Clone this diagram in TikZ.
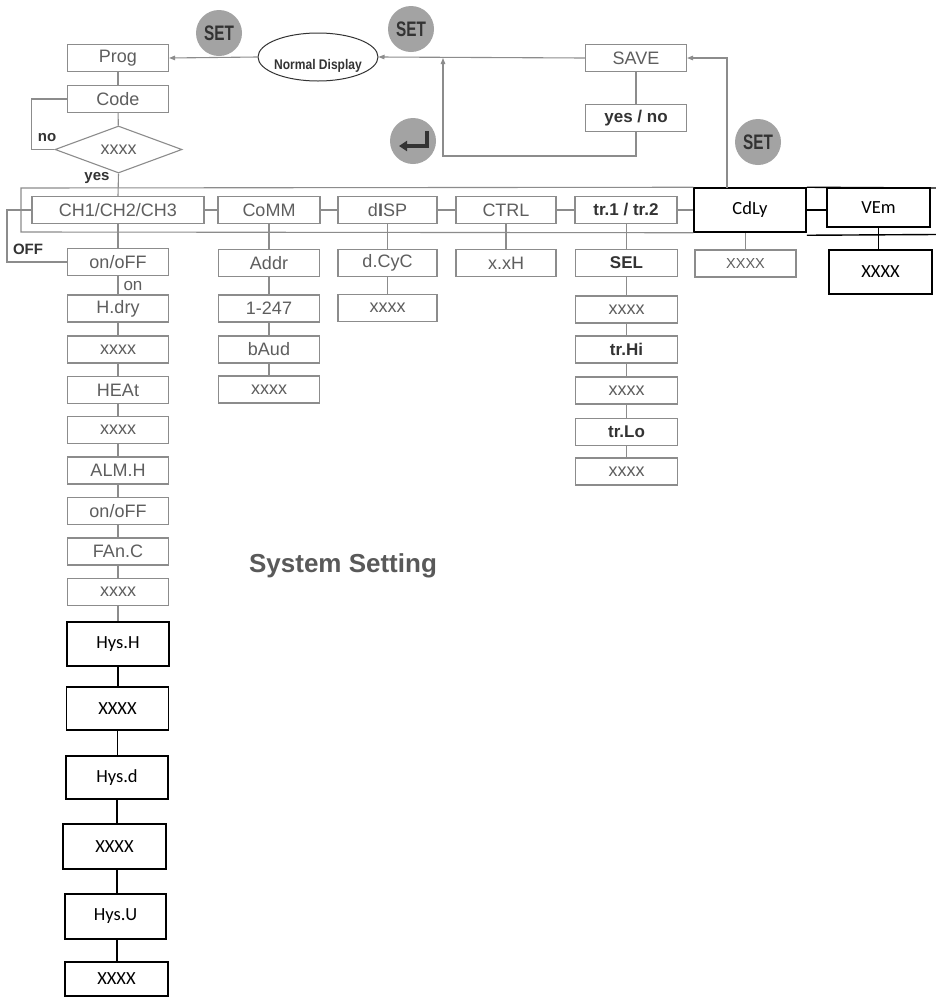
\documentclass[tikz,border=0pt]{standalone}
\usepackage{fontspec}
\usepackage{graphicx}
\setmainfont{Liberation Sans}
\newfontfamily\carl{Carlito}
\usetikzlibrary{shapes.geometric,arrows.meta}
\definecolor{boxgray}{HTML}{8C8C8C}
\definecolor{txtgray}{HTML}{5E5E5E}
\definecolor{lngray}{HTML}{8C8C8C}
\definecolor{setfill}{HTML}{A3A3A3}
\definecolor{darkg}{HTML}{333333}
\newcommand{\condtxt}[2]{\scalebox{#1}[1]{#2}}
\begin{document}
\begin{tikzpicture}[x=1pt,y=-1pt,
 gbox/.style={draw=boxgray,line width=1.1pt,minimum width=101pt,minimum height=27pt,inner sep=0pt,text=txtgray,font=\fontsize{18}{20}\selectfont},
 gboxb/.style={gbox,font=\fontsize{17}{20}\selectfont\bfseries,text=darkg},
 bbox/.style={draw=black,line width=1.5pt,minimum width=102pt,minimum height=44pt,inner sep=0pt,font=\carl\fontsize{18.5}{21}\selectfont},
 gl/.style={draw=lngray,line width=1.1pt},
 bl/.style={draw=black,line width=1.4pt},
 arr/.style={gl,-{Triangle[length=6pt,width=4.5pt]}},
 setc/.style={circle,fill=setfill,minimum size=46pt,inner sep=0pt,text=darkg,font=\fontsize{21}{22}\selectfont\bfseries},
 lab/.style={font=\fontsize{15}{17}\selectfont\bfseries,text=darkg,inner sep=0pt},
]
\fill[white] (0,0) rectangle (936,999);
\useasboundingbox (0,0) rectangle (936,999);

% top area
\node[gbox] (prog) at (118,58) {Prog};
\node[gbox] (code) at (118,99) {Code};
\node[diamond,draw=boxgray,line width=1.1pt,minimum width=127pt,minimum height=47pt,inner sep=0pt,text=txtgray,font=\fontsize{18}{20}\selectfont] (dia) at (118.5,149.5) {xxxx};
\node[ellipse,draw=darkg,line width=1pt,minimum width=120pt,minimum height=48pt,inner sep=0pt,
  label={[inner sep=0pt,text=darkg,font=\fontsize{14}{16}\selectfont\bfseries,yshift=-9pt]center:\condtxt{0.86}{Normal Display}}] (nd) at (318,57) {};
\node[gbox] (save) at (636,58) {SAVE};
\node[gboxb] (yn) at (636,118) {yes / no};
\node[setc] (set1) at (219,33) {\condtxt{0.73}{SET}};
\node[setc] (set2) at (411,29) {\condtxt{0.73}{SET}};
\node[setc] (set3) at (758,142) {\condtxt{0.73}{SET}};
\node[setc] (enter) at (413,141) {};
\draw[darkg,line width=3.5pt,-{Triangle[length=8pt,width=10pt]}] (427,131) -- (427,146) -- (399,146);

\node[lab] (nolab) at (47,138) {no};
\node[lab] (yeslab) at (97,178) {yes};
\node[lab] (offlab) at (28,249) {OFF};
\node[inner sep=0pt,text=txtgray,font=\fontsize{17}{19}\selectfont] (onlab) at (133,286) {on};

% menu row
\node[gbox,minimum width=172pt] (ch) at (118,210) {CH1/CH2/CH3};
\node[gbox,minimum width=102pt] (comm) at (269,210) {CoMM};
\node[gbox,minimum width=99pt] (disp) at (387.5,210) {d\textbf{I}SP};
\node[gbox,minimum width=100pt] (ctrl) at (506,210) {CTRL};
\node[gboxb,minimum width=102pt] (tr) at (626,210) {tr.1 / tr.2};
\node[bbox,minimum width=112pt,minimum height=44pt] (cdly) at (750,210) {CdLy};
\node[bbox,minimum width=103pt,minimum height=39pt] (vem) at (878.5,207.5) {VEm};

% CH column
\node[gbox] (onoff) at (118,262) {on/oFF};
\node[gbox] (hdry) at (118,308.5) {H.dry};
\node[gbox] (x1) at (118,349.5) {xxxx};
\node[gbox] (heat) at (118,390) {HEAt};
\node[gbox] (x2) at (118,430) {xxxx};
\node[gbox] (almh) at (118,470.5) {ALM.H};
\node[gbox] (onoff2) at (118,511) {on/oFF};
\node[gbox] (fanc) at (118,551.5) {FAn.C};
\node[gbox] (x3) at (118,592) {xxxx};

% CoMM column
\node[gbox] (addr) at (269,263) {Addr};
\node[gbox] (n247) at (269,308.5) {1-247};
\node[gbox] (baud) at (269,349.5) {bAud};
\node[gbox] (x4) at (269,389.5) {xxxx};

% dISP column
\node[gbox,minimum width=99pt] (dcyc) at (387.5,263) {d.CyC};
\node[gbox,minimum width=99pt] (x5) at (387.5,308) {xxxx};

% CTRL column
\node[gbox,minimum width=100pt] (xxh) at (506,263) {x.xH};

% tr column
\node[gboxb,minimum width=102pt] (sel) at (626.5,263) {SEL};
\node[gbox,minimum width=102pt] (x6) at (626.5,309.5) {xxxx};
\node[gboxb,minimum width=102pt] (trhi) at (626.5,349.5) {tr.Hi};
\node[gbox,minimum width=102pt] (x7) at (626.5,390.5) {xxxx};
\node[gboxb,minimum width=102pt] (trlo) at (626.5,432) {tr.Lo};
\node[gbox,minimum width=102pt] (x8) at (626.5,471.5) {xxxx};

% CdLy / VEm columns
\node[gbox,font=\fontsize{14.5}{17}\selectfont] (x9) at (745.5,263.5) {XXXX};
\node[bbox,minimum width=103pt,minimum height=44pt] (xv) at (880.5,272) {XXXX};

% bottom black boxes
\node[bbox] (hysh) at (118,644) {Hys.H};
\node[bbox,minimum height=43pt] (x10) at (117.5,708.5) {XXXX};
\node[bbox,minimum height=43pt] (hysd) at (117,777.5) {Hys.d};
\node[bbox,minimum width=103pt,minimum height=45pt] (x11) at (114.5,846.5) {XXXX};
\node[bbox,minimum width=101pt,minimum height=45pt] (hysu) at (115.5,916.5) {Hys.U};
\node[bbox,minimum width=103pt,minimum height=34pt] (x12) at (116.5,979) {XXXX};

\node[inner sep=0pt,text=txtgray!95!black,font=\fontsize{26}{30}\selectfont\bfseries] (sys) at (343,566) {System Setting};

% coordinates
\coordinate (j1) at (443,58);
\coordinate (c1) at (727,188);

% connectors top
\draw[gl] (prog) -- (code);
\draw[gl] (code) -- (dia);
\draw[gl] (dia.south) -- (ch.north);
\draw[gl] (dia.west) -- ++(-23,0) |- (code.west);
\draw[arr] (nd.west) -- (prog.east);
\draw[arr] (save.west) -- (nd.east);
\draw[gl] (save) -- (yn);
\draw[arr] (yn.south) -- (636,156) -| (j1);
\draw[arr] (c1) |- (save.east);

% frame
\draw[gl] (cdly.north west) -- (21,188) -- (21,232) -- (cdly.south west);
\draw[bl] (cdly.north east) -- (936,188);
\draw[bl] (cdly.south east) ++(0,2.5) -- (936,234.5);

% menu row connectors
\draw[gl] (ch) -- (comm);
\draw[gl] (comm) -- (disp);
\draw[gl] (disp) -- (ctrl);
\draw[gl] (ctrl) -- (tr);
\draw[gl] (tr) -- (cdly);
\draw[bl] (cdly.east) -- (cdly.east -| vem.west);
\draw[gl] (ch.west) -- (7,210) |- (onoff.west);

% columns
\draw[gl] (ch) -- (onoff);
\draw[gl] (onoff) -- (hdry);
\draw[gl] (hdry) -- (x1);
\draw[gl] (x1) -- (heat);
\draw[gl] (heat) -- (x2);
\draw[gl] (x2) -- (almh);
\draw[gl] (almh) -- (onoff2);
\draw[gl] (onoff2) -- (fanc);
\draw[gl] (fanc) -- (x3);
\draw[gl] (x3) -- (hysh);

\draw[gl] (comm) -- (addr);
\draw[gl] (addr) -- (n247);
\draw[gl] (n247) -- (baud);
\draw[gl] (baud) -- (x4);

\draw[gl] (disp) -- (dcyc);
\draw[gl] (dcyc) -- (x5);
\draw[gl] (ctrl) -- (xxh);

\draw[gl] (tr.south -| sel.north) -- (sel.north);
\draw[gl] (sel) -- (x6);
\draw[gl] (x6) -- (trhi);
\draw[gl] (trhi) -- (x7);
\draw[gl] (x7) -- (trlo);
\draw[gl] (trlo) -- (x8);

\draw[gl] (x9.north) -- (x9.north |- cdly.south);
\draw[bl] (vem.south) -- (vem.south |- xv.north);

\draw[bl] (hysh.south) -- (hysh.south |- x10.north);
\draw[bl] (x10.south) -- (x10.south |- hysd.north);
\draw[bl] (hysd.south) -- (hysd.south |- x11.north);
\draw[bl] (hysd.south |- x11.south) -- (hysd.south |- hysu.north);
\draw[bl] (hysd.south |- hysu.south) -- (hysd.south |- x12.north);
\end{tikzpicture}
\end{document}
